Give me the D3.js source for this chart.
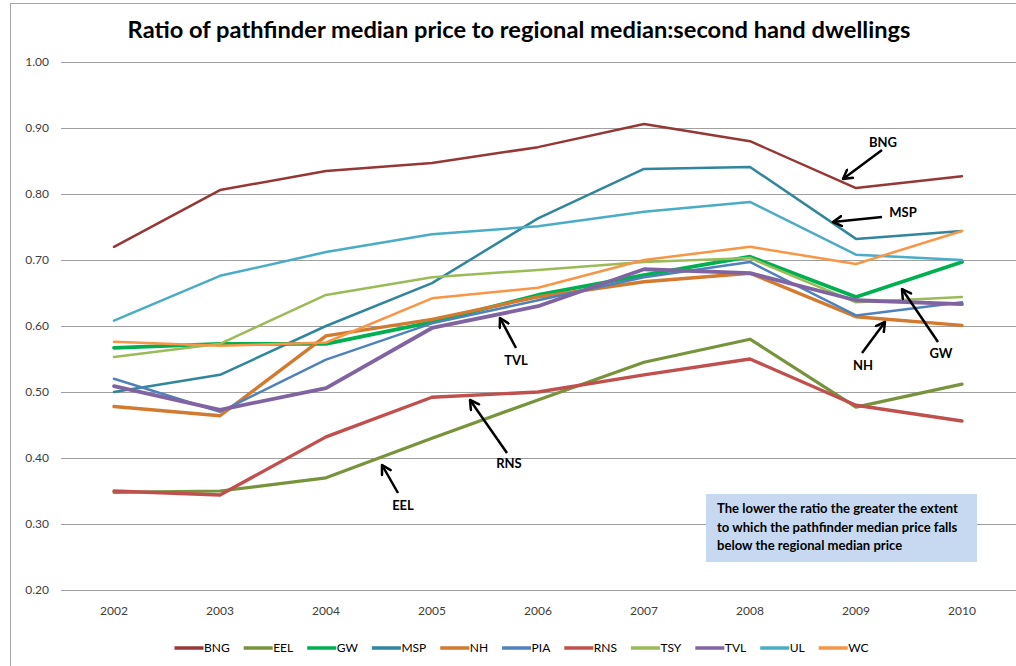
<!DOCTYPE html>
<html><head><meta charset="utf-8">
<script src="https://cdn.jsdelivr.net/npm/d3@7"></script>
<style>body{margin:0;background:#fff;} svg{display:block;font-family:Lato,"Open Sans",sans-serif;}</style>
</head><body>
<svg id="c" width="1016" height="666"></svg>
<script>
const years = ["2002","2003","2004","2005","2006","2007","2008","2009","2010"];
const yTicks = [0.2,0.3,0.4,0.5,0.6,0.7,0.8,0.9,1.0];
const seriesNames = ["BNG","EEL","GW","MSP","NH","PIA","RNS","TSY","TVL","UL","WC"];
const BNG = [0.720,0.806,0.835,0.847,0.871,0.906,0.880,0.809,0.827];
const EEL = [0.348,0.350,0.370,0.430,0.488,0.545,0.580,0.477,0.512];
const GW  = [0.567,0.573,0.573,0.606,0.647,0.677,0.705,0.644,0.697];
const MSP = [0.500,0.526,0.600,0.665,0.763,0.838,0.841,0.732,0.744];
const NH  = [0.478,0.464,0.585,0.610,0.644,0.667,0.680,0.614,0.601];
const PIA = [0.520,0.470,0.549,0.604,0.639,0.674,0.697,0.616,0.636];
const RNS = [0.350,0.344,0.432,0.492,0.500,0.526,0.550,0.480,0.456];
const TSY = [0.553,0.573,0.647,0.674,0.685,0.697,0.703,0.636,0.644];
const TVL = [0.509,0.473,0.506,0.597,0.630,0.686,0.680,0.639,0.633];
const UL  = [0.608,0.676,0.712,0.739,0.751,0.773,0.788,0.708,0.700];
const WC  = [0.576,0.570,0.575,0.642,0.658,0.700,0.720,0.694,0.744];
const seriesValues = [BNG,EEL,GW,MSP,NH,PIA,RNS,TSY,TVL,UL,WC];
const seriesColors = ["#953735","#77933C","#00B050","#31859C","#D27A30","#4F81BD","#C0504D","#9BBB59","#8064A2","#4BACC6","#F79646"];
const seriesWidths = [2.5,3.2,3.8,2.5,3.4,2.5,3.4,2.5,3.8,2.5,2.5];
const titleText = "Ratio of pathfinder median price to regional median:second hand dwellings";
const noteLines = ["The lower the ratio the greater the extent","to which the pathfinder median price falls","below the regional median price"];
const callouts = [
  {label:"BNG", tx:883, ty:142, x1:882, y1:150, x2:843, y2:179},
  {label:"MSP", tx:903, ty:212, x1:882, y1:217, x2:833, y2:222},
  {label:"NH",  tx:863, ty:365, x1:862, y1:353, x2:885, y2:322},
  {label:"GW",  tx:941, ty:353, x1:938, y1:342, x2:902, y2:289},
  {label:"TVL", tx:516, ty:360, x1:516, y1:348, x2:500, y2:318},
  {label:"RNS", tx:509, ty:463, x1:507, y1:453, x2:470, y2:400},
  {label:"EEL", tx:403, ty:505, x1:398, y1:493, x2:382, y2:465}
];

const svg = d3.select("#c");
// outer chart frame
svg.append("rect").attr("x",10.5).attr("y",3.5).attr("width",1020).attr("height",700)
  .attr("fill","none").attr("stroke","#A6A6A6").attr("stroke-width",1);

const x = d3.scaleBand().domain(years).range([61,1015]);
const y = d3.scaleLinear().domain([0.2,1.0]).range([590,62]);

// gridlines
svg.append("g").selectAll("line").data(yTicks).join("line")
  .attr("x1",61).attr("x2",1016)
  .attr("y1",d=>Math.round(y(d))+0.5).attr("y2",d=>Math.round(y(d))+0.5)
  .attr("stroke","#A0A0A0").attr("stroke-width",1);

// y axis labels
const yAxis = d3.axisLeft(y).tickValues(yTicks).tickFormat(d3.format(".2f")).tickSize(0).tickPadding(0);
const gy = svg.append("g").attr("transform","translate(49,0)").call(yAxis);
gy.select(".domain").remove();
gy.selectAll("text").attr("font-size","12px").attr("fill","#404040").attr("font-family","Lato, sans-serif");

// x axis labels
const xAxis = d3.axisBottom(x).tickSize(0).tickPadding(0);
const gx = svg.append("g").attr("transform","translate(0,606)").call(xAxis);
gx.select(".domain").remove();
gx.selectAll("text").attr("font-size","12px").attr("fill","#404040").attr("font-family","Lato, sans-serif");

// lines
const line = d3.line().x((d,i)=>x(years[i])+x.bandwidth()/2).y(d=>y(d));
svg.append("g").selectAll("path").data(seriesValues).join("path")
  .attr("d",d=>line(d)).attr("fill","none")
  .attr("stroke",(d,i)=>seriesColors[i]).attr("stroke-width",(d,i)=>seriesWidths[i])
  .attr("stroke-linejoin","round").attr("stroke-linecap","round");

// title
const title = svg.append("text").attr("x",519).attr("y",38).attr("text-anchor","middle")
  .attr("font-weight","bold").attr("font-size","20px").attr("fill","#000").text(titleText);
{ const w = title.node().getComputedTextLength(); title.attr("font-size",(20*783/w).toFixed(2)+"px"); }

// note box
svg.append("rect").attr("x",706).attr("y",494).attr("width",271).attr("height",68).attr("fill","#C6D9F1");
const note = svg.append("g");
noteLines.forEach((t,i)=>{
  note.append("text").attr("x",717).attr("y",513+i*18.5).attr("font-weight","bold")
    .attr("font-size","11.5px").attr("fill","#000").text(t);
});
{ const w = note.select("text").node().getComputedTextLength(); note.selectAll("text").attr("font-size",(11.5*241/w).toFixed(2)+"px"); }

// callouts
const defs = svg.append("defs");
defs.append("marker").attr("id","ah").attr("viewBox","0 0 10 10").attr("refX",8).attr("refY",5)
  .attr("markerWidth",5).attr("markerHeight",5).attr("orient","auto")
  .append("path").attr("d","M1,1 L8,5 L1,9").attr("fill","none").attr("stroke","#000").attr("stroke-width",2).attr("stroke-linecap","round").attr("stroke-linejoin","round");
const cg = svg.append("g");
callouts.forEach(c=>{
  cg.append("line").attr("x1",c.x1).attr("y1",c.y1).attr("x2",c.x2).attr("y2",c.y2)
    .attr("stroke","#000").attr("stroke-width",2.5).attr("marker-end","url(#ah)");
  cg.append("text").attr("x",c.tx).attr("y",c.ty).attr("dy","0.35em").attr("text-anchor","middle")
    .attr("font-weight","bold").attr("font-size","13px").attr("fill","#000").text(c.label);
});

// legend
const lg = svg.append("g");
let lx = 0;
const items = [];
seriesNames.forEach((n,i)=>{
  const g = lg.append("g");
  g.append("line").attr("x1",0).attr("x2",29).attr("y1",0).attr("y2",0)
    .attr("stroke",seriesColors[i]).attr("stroke-width",3.5);
  const t = g.append("text").attr("x",29.5).attr("y",0).attr("dy","0.35em")
    .attr("font-size","12px").attr("fill","#000").text(n);
  const w = 29.5 + t.node().getComputedTextLength();
  g.attr("transform",`translate(${lx},0)`);
  lx += w + 14;
});
const total = lx - 14;
lg.attr("transform",`translate(${(521.5 - total/2).toFixed(1)},648)`);
</script>
</body></html>
